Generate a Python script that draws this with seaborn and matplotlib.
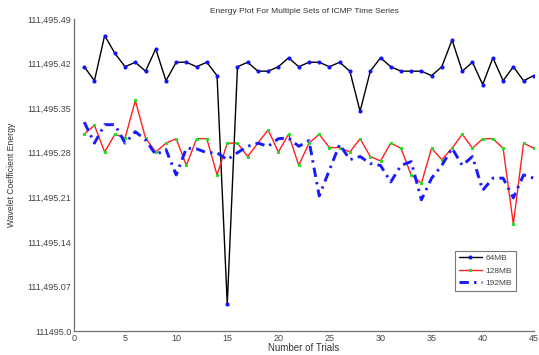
import numpy as np
import pandas as pd
import matplotlib
matplotlib.use("Agg")
import matplotlib.pyplot as plt
import seaborn as sns

BASE = 111495.0

trials = list(range(1, 46))

energy_64mb = [0.415, 0.393, 0.464, 0.436, 0.415, 0.422, 0.408, 0.443, 0.393, 0.422,
               0.422, 0.415, 0.422, 0.401, 0.042, 0.415, 0.422, 0.408, 0.408, 0.415,
               0.429, 0.415, 0.422, 0.422, 0.415, 0.422, 0.408, 0.345, 0.408, 0.429,
               0.415, 0.408, 0.408, 0.408, 0.401, 0.415, 0.457, 0.408, 0.422, 0.387,
               0.429, 0.393, 0.415, 0.393, 0.401]

energy_128mb = [0.309, 0.323, 0.281, 0.309, 0.303, 0.362, 0.303, 0.281, 0.295, 0.302,
                0.260, 0.302, 0.302, 0.245, 0.295, 0.295, 0.274, 0.295, 0.316, 0.281,
                0.309, 0.260, 0.295, 0.309, 0.288, 0.288, 0.281, 0.302, 0.274, 0.267,
                0.295, 0.287, 0.245, 0.232, 0.287, 0.269, 0.287, 0.309, 0.287, 0.302,
                0.302, 0.287, 0.168, 0.295, 0.287]

energy_192mb = [0.328, 0.295, 0.324, 0.324, 0.295, 0.313, 0.300, 0.277, 0.285, 0.245,
                0.287, 0.286, 0.280, 0.280, 0.269, 0.280, 0.290, 0.295, 0.290, 0.302,
                0.303, 0.290, 0.299, 0.212, 0.253, 0.293, 0.269, 0.274, 0.263, 0.260,
                0.234, 0.260, 0.266, 0.206, 0.240, 0.260, 0.287, 0.260, 0.274, 0.221,
                0.240, 0.240, 0.209, 0.245, 0.240]

ytick_offsets = [0.0, 0.07, 0.14, 0.21, 0.28, 0.35, 0.42, 0.49]
ytick_labels = ["111495.0", "111,495.07", "111,495.14", "111,495.21",
                "111,495.28", "111,495.35", "111,495.42", "111,495.49"]
xticks = [0, 5, 10, 15, 20, 25, 30, 35, 40, 45]

sns.set_style("white")
plt.rcParams["font.family"] = ["Liberation Sans", "DejaVu Sans"]

fig = plt.figure(figsize=(5.39, 3.55), dpi=100)
ax = fig.add_axes([0.1373, 0.0676, 0.853, 0.879])

df64 = pd.DataFrame({"trial": trials, "energy": BASE + np.array(energy_64mb)})
df128 = pd.DataFrame({"trial": trials, "energy": BASE + np.array(energy_128mb)})
df192 = pd.DataFrame({"trial": trials, "energy": BASE + np.array(energy_192mb)})

sns.lineplot(data=df64, x="trial", y="energy", ax=ax, color="black", linewidth=1.0,
             marker="o", markersize=2.2, markerfacecolor="#1010ff", markeredgecolor="#1010ff",
             label="64MB")
sns.lineplot(data=df128, x="trial", y="energy", ax=ax, color="#ff2020", linewidth=1.0,
             marker="s", markersize=1.8, markerfacecolor="#20e020", markeredgecolor="#20e020",
             label="128MB")
sns.lineplot(data=df192, x="trial", y="energy", ax=ax, color="#1a1aff", linewidth=2.1,
             linestyle=(0, (3.2, 1.8, 0.8, 1.8)), label="192MB")

ax.set_xlim(0, 45)
ax.set_ylim(BASE, BASE + 0.49)
ax.set_xticks(xticks)
ax.set_yticks([BASE + v for v in ytick_offsets])
ax.set_yticklabels(ytick_labels)

for side in ("top", "right"):
    ax.spines[side].set_visible(False)
for side in ("left", "bottom"):
    ax.spines[side].set_color("#707070")
    ax.spines[side].set_linewidth(0.9)

ax.tick_params(axis="both", direction="in", length=3, width=0.8, color="#707070",
               labelsize=6.5, labelcolor="#444444", pad=2)

ax.set_title("Energy Plot For Multiple Sets of ICMP Time Series", fontsize=6,
             color="#333333", pad=4)
ax.set_xlabel("Number of Trials", fontsize=7, color="#333333", labelpad=0)
ax.set_ylabel("Wavelet Coefficient Energy", fontsize=6.2, color="#333333", labelpad=8)

leg = ax.legend(loc="lower right", bbox_to_anchor=(0.97, 0.115), fontsize=6,
                frameon=True, fancybox=False, handlelength=2.8, borderpad=0.45,
                labelspacing=0.55, handletextpad=0.4)
leg.get_frame().set_edgecolor("#555555")
leg.get_frame().set_linewidth(0.8)
for t in leg.get_texts():
    t.set_color("#444444")

fig.savefig("out.png", dpi=100)
